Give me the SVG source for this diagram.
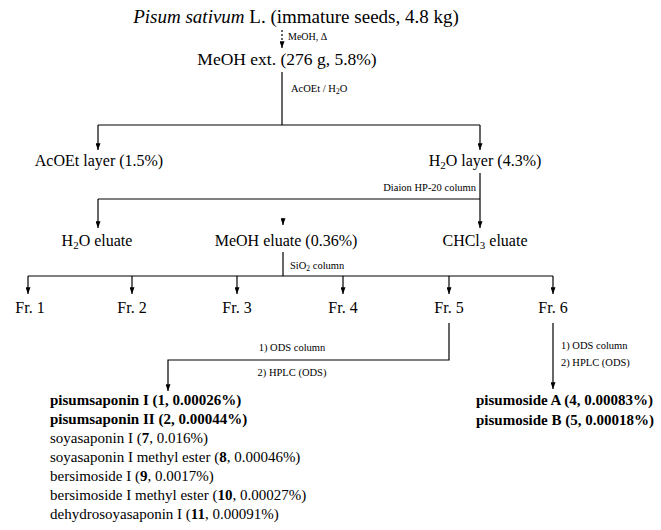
<svg xmlns="http://www.w3.org/2000/svg" width="661" height="530" viewBox="0 0 661 530">
<style>
text{font-family:"Liberation Serif","Times New Roman",serif;fill:#000}
.n{font-size:16px}
.s{font-size:10.5px}
.b{font-weight:bold}
.c line,.c path{stroke:#000;stroke-width:1.2;fill:none}
</style>
<defs>
<marker id="ah" viewBox="0 0 8 6" refX="8" refY="3" markerWidth="7" markerHeight="5" markerUnits="userSpaceOnUse" orient="auto">
<path d="M0,0 L8,3 L0,6 z" fill="#000"/>
</marker>
</defs>
<rect width="661" height="530" fill="#fff"/>
<g class="c" id="connectors">
<line x1="282" y1="30" x2="282" y2="48" stroke-dasharray="2,2" marker-end="url(#ah)"/>
<line x1="282" y1="72" x2="282" y2="125"/>
<line x1="98" y1="125" x2="480" y2="125"/>
<line x1="98" y1="125" x2="98" y2="150" marker-end="url(#ah)"/>
<line x1="480" y1="125" x2="480" y2="150" marker-end="url(#ah)"/>
<line x1="480" y1="173" x2="480" y2="228" marker-end="url(#ah)"/>
<line x1="98" y1="199" x2="480" y2="199"/>
<line x1="98" y1="199" x2="98" y2="228" marker-end="url(#ah)"/>
<line x1="283" y1="218" x2="283" y2="225" marker-end="url(#ah)"/>
<line x1="283" y1="252" x2="283" y2="276"/>
<line x1="28" y1="276" x2="553" y2="276"/>
<line x1="28" y1="276" x2="28" y2="294" marker-end="url(#ah)"/>
<line x1="132" y1="276" x2="132" y2="294" marker-end="url(#ah)"/>
<line x1="237" y1="276" x2="237" y2="294" marker-end="url(#ah)"/>
<line x1="343" y1="276" x2="343" y2="294" marker-end="url(#ah)"/>
<line x1="449" y1="276" x2="449" y2="294" marker-end="url(#ah)"/>
<line x1="553" y1="276" x2="553" y2="294" marker-end="url(#ah)"/>
<path d="M449,323 V360 H168 V391" marker-end="url(#ah)"/>
<line x1="553" y1="323" x2="553" y2="389" marker-end="url(#ah)"/>
</g>
<g id="labels" class="s">
<text x="288" y="40" font-size="10">MeOH, Δ</text>
<text x="291" y="92">AcOEt / H<tspan font-size="7.5" dy="2">2</tspan><tspan dy="-2">O</tspan></text>
<text x="476" y="191" text-anchor="end">Diaion HP-20 column</text>
<text x="290" y="269">SiO<tspan font-size="7.5" dy="2">2</tspan><tspan dy="-2"> column</tspan></text>
<text x="292" y="351" text-anchor="middle">1) ODS column</text>
<text x="292" y="376" text-anchor="middle">2) HPLC (ODS)</text>
<text x="561" y="349">1) ODS column</text>
<text x="561" y="366">2) HPLC (ODS)</text>
</g>
<g id="n-source"><text x="296" y="23" font-size="19" text-anchor="middle"><tspan font-style="italic">Pisum sativum</tspan> L. (immature seeds, 4.8 kg)</text></g>
<g id="n-meoh-ext"><text x="287" y="65" font-size="17.5" text-anchor="middle">MeOH ext. (276 g, 5.8%)</text></g>
<g id="n-acoet-layer"><text class="n" x="99" y="166" text-anchor="middle">AcOEt layer (1.5%)</text></g>
<g id="n-h2o-layer"><text class="n" x="485" y="166" text-anchor="middle">H<tspan font-size="11" dy="3">2</tspan><tspan dy="-3">O layer (4.3%)</tspan></text></g>
<g id="n-h2o-eluate"><text class="n" x="97" y="246" text-anchor="middle">H<tspan font-size="11" dy="3">2</tspan><tspan dy="-3">O eluate</tspan></text></g>
<g id="n-meoh-eluate"><text class="n" x="286" y="246" text-anchor="middle">MeOH eluate (0.36%)</text></g>
<g id="n-chcl3-eluate"><text class="n" x="485" y="246" text-anchor="middle">CHCl<tspan font-size="11" dy="3">3</tspan><tspan dy="-3"> eluate</tspan></text></g>
<g id="n-fr1"><text class="n" x="30" y="313" text-anchor="middle">Fr. 1</text></g>
<g id="n-fr2"><text class="n" x="132" y="313" text-anchor="middle">Fr. 2</text></g>
<g id="n-fr3"><text class="n" x="237" y="313" text-anchor="middle">Fr. 3</text></g>
<g id="n-fr4"><text class="n" x="343" y="313" text-anchor="middle">Fr. 4</text></g>
<g id="n-fr5"><text class="n" x="449" y="313" text-anchor="middle">Fr. 5</text></g>
<g id="n-fr6"><text class="n" x="553" y="313" text-anchor="middle">Fr. 6</text></g>
<g id="n-fr5-products" font-size="15">
<text x="50" y="405" class="b">pisumsaponin I (1, 0.00026%)</text>
<text x="50" y="424" class="b">pisumsaponin II (2, 0.00044%)</text>
<text x="50" y="443">soyasaponin I (<tspan class="b">7</tspan>, 0.016%)</text>
<text x="50" y="462">soyasaponin I methyl ester (<tspan class="b">8</tspan>, 0.00046%)</text>
<text x="50" y="481">bersimoside I (<tspan class="b">9</tspan>, 0.0017%)</text>
<text x="50" y="500">bersimoside I methyl ester (<tspan class="b">10</tspan>, 0.00027%)</text>
<text x="50" y="519">dehydrosoyasaponin I (<tspan class="b">11</tspan>, 0.00091%)</text>
</g>
<g id="n-fr6-products" font-size="15" font-weight="bold">
<text x="476" y="405">pisumoside A (4, 0.00083%)</text>
<text x="476" y="425">pisumoside B (5, 0.00018%)</text>
</g>
</svg>
